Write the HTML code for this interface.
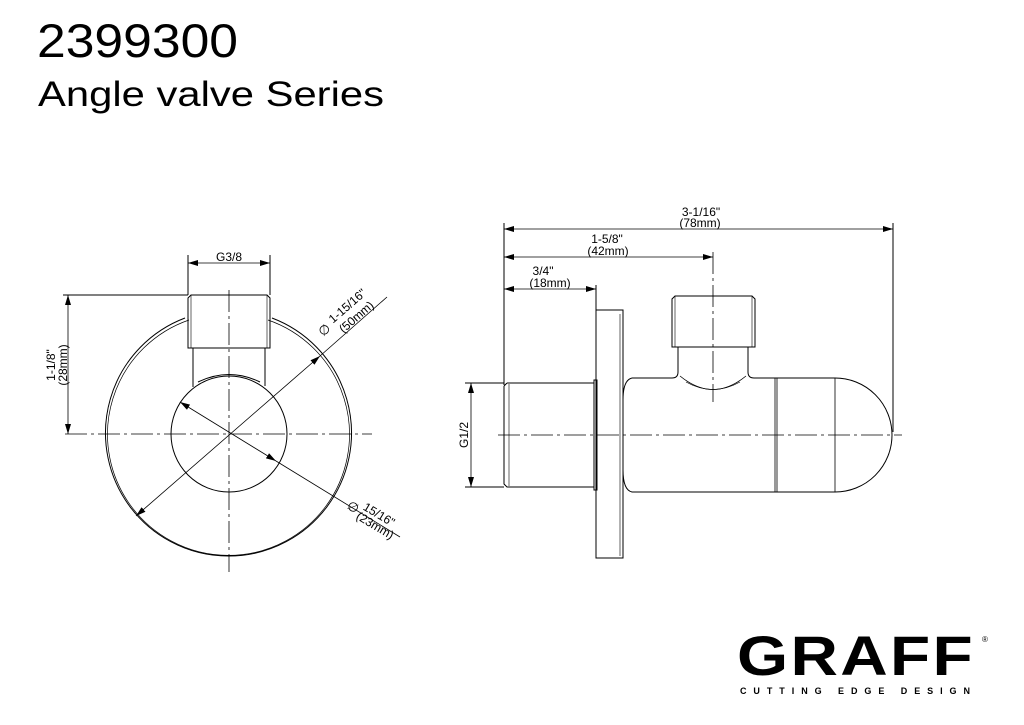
<!DOCTYPE html>
<html><head><meta charset="utf-8"><style>
html,body{margin:0;padding:0;background:#fff;width:1024px;height:725px;overflow:hidden}
svg{display:block}
text{font-family:"Liberation Sans",Arial,sans-serif;fill:#000}
</style></head><body>
<svg width="1024" height="725" viewBox="0 0 1024 725" xmlns="http://www.w3.org/2000/svg">
<defs>
<marker id="ar" viewBox="0 0 10 6" refX="10" refY="3" markerWidth="10" markerHeight="6" orient="auto-start-reverse" markerUnits="userSpaceOnUse"><path d="M0,0 L10,3 L0,6z" fill="#000"/></marker>
</defs>
<text x="37" y="57" font-size="47" textLength="201" lengthAdjust="spacingAndGlyphs">2399300</text>
<text x="38" y="106" font-size="35" textLength="346" lengthAdjust="spacingAndGlyphs">Angle valve Series</text>

<g fill="none" stroke="#000" stroke-width="1">
<path d="M185,318 A123,123 0 1 0 272,318"/>
<path d="M189,320 A121,121 0 1 0 268,320" stroke-width="0.7"/>
<circle cx="229" cy="434" r="58"/>
<path d="M188,298 L191,295 L267,295 L270,298 L270,348 L188,348 Z"/>
<path d="M191,295 L191,348 M267,295 L267,348" stroke-width="0.6"/>
<path d="M193,348 L193,387 M265,348 L265,386"/>
<path d="M198,382 Q229,367 260,382"/>
<path d="M65,434 L372,434" stroke-dasharray="22,4,3,4" stroke-width="0.8"/>
<path d="M229,290 L229,572" stroke-dasharray="22,4,3,4" stroke-width="0.8"/>
<path d="M188,255 L188,295 M270,255 L270,295"/>
<path d="M188,263 L270,263" marker-start="url(#ar)" marker-end="url(#ar)" stroke-width="0.8"/>
<path d="M63,295 L188,295"/>
<path d="M68,295 L68,434" marker-start="url(#ar)" marker-end="url(#ar)" stroke-width="0.8"/>
<path d="M136,516 L320,356" marker-start="url(#ar)" marker-end="url(#ar)" stroke-width="0.8"/>
<path d="M320,356 L387,297" stroke-width="0.8"/>
<path d="M180,402 L276,461" marker-start="url(#ar)" marker-end="url(#ar)" stroke-width="0.8"/>
<path d="M276,461 L400,537" stroke-width="0.8"/>

<path d="M504,223 L504,385 M893,223 L893,432 M596,285 L596,310"/>
<path d="M713,252 L713,402" stroke-dasharray="22,4,3,4" stroke-width="0.8"/>
<path d="M504,229 L893,229" marker-start="url(#ar)" marker-end="url(#ar)" stroke-width="0.8"/>
<path d="M504,257 L713,257" marker-start="url(#ar)" marker-end="url(#ar)" stroke-width="0.8"/>
<path d="M504,289 L596,289" marker-start="url(#ar)" marker-end="url(#ar)" stroke-width="0.8"/>
<path d="M507,383 L594,383 M504,386 L504,484 L507,487 L594,487 M504,386 L507,383"/>
<path d="M509,384 L509,486" stroke-width="0.6"/>
<path d="M594,380 L597,380 L597,490 L594,490 Z"/>
<path d="M596,310 L623,310 L623,558 L596,558 Z"/>
<path d="M620,314 L620,556" stroke-width="0.6"/>
<path d="M632,378 L672,378 M754,378 L835,378 A57,57 0 0 1 835,492 L632,492 Q623,490 623,470 L623,400 Q623,380 632,378"/>
<path d="M775,378 L775,492 M777,378 L777,492 M835,378 L835,492" stroke-width="0.8"/>
<path d="M675,296 L752,296 L755,299 L755,347 L672,347 L672,299 Z"/>
<path d="M675,296 L675,347 M752,296 L752,347" stroke-width="0.6"/>
<path d="M678,347 L678,372 Q678,378 672,378 M748,347 L748,372 Q748,378 754,378"/>
<path d="M680,376 Q713,403 746,376" stroke-width="0.8"/>
<path d="M686,382 Q713,397 740,382" stroke-width="0.6"/>
<path d="M498,435 L902,435" stroke-dasharray="22,4,3,4" stroke-width="0.8"/>
<path d="M465,383 L504,383 M465,487 L504,487"/>
<path d="M471,383 L471,487" marker-start="url(#ar)" marker-end="url(#ar)" stroke-width="0.8"/>
</g>

<g font-size="12">
<text x="229" y="261" text-anchor="middle">G3/8</text>
<text transform="translate(55,365) rotate(-90)" text-anchor="middle">1-1/8"</text>
<text transform="translate(67,365) rotate(-90)" text-anchor="middle">(28mm)</text>
<text transform="translate(350,309) rotate(-41)" text-anchor="middle">1-15/16"</text>
<text transform="translate(359,320) rotate(-41)" text-anchor="middle">(50mm)</text>
<text transform="translate(323,337) rotate(-41)" font-size="13">∅</text>
<text transform="translate(377,518) rotate(31)" text-anchor="middle">15/16"</text>
<text transform="translate(373,529) rotate(31)" text-anchor="middle">(23mm)</text>
<text transform="translate(346,508) rotate(31)" font-size="13">∅</text>
<text x="701" y="216" text-anchor="middle">3-1/16"</text>
<text x="700" y="227" text-anchor="middle">(78mm)</text>
<text x="607" y="243" text-anchor="middle">1-5/8"</text>
<text x="608" y="255" text-anchor="middle">(42mm)</text>
<text x="543" y="275" text-anchor="middle">3/4"</text>
<text x="550" y="287" text-anchor="middle">(18mm)</text>
<text transform="translate(468,435) rotate(-90)" text-anchor="middle">G1/2</text>
</g>

<text x="737" y="675" font-size="56" font-weight="bold" textLength="238" lengthAdjust="spacingAndGlyphs" style="letter-spacing:2px">GRAFF</text>
<text x="982" y="642" font-size="8">®</text>
<text x="740" y="694" font-size="9" font-weight="bold" textLength="230" lengthAdjust="spacing">CUTTING EDGE DESIGN</text>
</svg>
</body></html>
